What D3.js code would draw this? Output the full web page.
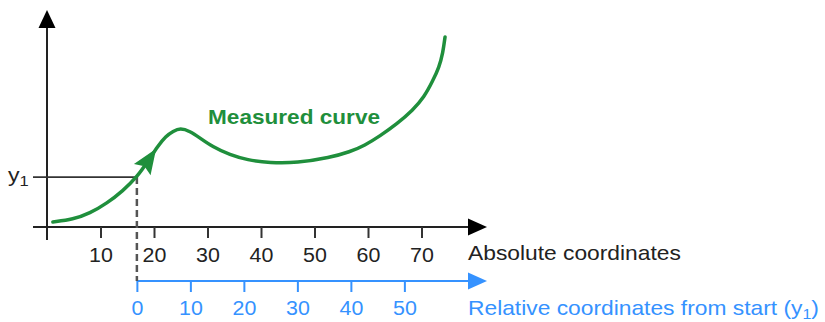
<!DOCTYPE html>
<html>
<head>
<meta charset="utf-8">
<script src="https://cdn.jsdelivr.net/npm/d3@7"></script>
<style>
  body { margin: 0; background: #fff; }
  svg { display: block; font-family: "Liberation Sans", Arial, sans-serif; }
</style>
</head>
<body>
<svg id="chart" width="825" height="322"></svg>
<script>
// measured curve, absolute x / arbitrary y units
const curveX = [1.1, 4.9, 8.0, 11.2, 14.2, 16.8, 18.9, 20.7, 22.2, 23.6, 24.9, 26.7, 28.6, 31.0, 34.2, 37.4, 41.7, 46.7, 52.9, 56.6, 59.4, 62.2, 65.4, 68.4, 70.5, 72.1, 73.3, 74.0, 74.4];
const curveY = [2.3, 3.5, 6.3, 10.9, 16.7, 23.0, 30.4, 37.3, 41.9, 44.2, 45.6, 44.2, 41.0, 36.9, 33.2, 30.9, 29.5, 29.5, 32.0, 34.6, 37.6, 41.9, 47.5, 53.9, 59.9, 67.3, 73.7, 80.2, 87.6];
const absTicks = [10, 20, 30, 40, 50, 60, 70];
const relTicks = [0, 10, 20, 30, 40, 50];
const startX = 16.8; // where relative coordinates begin
const startY = 23.0; // y1
const arrowAtX = 20.4;

const green = "#1f8f3c";
const blue = "#3592ff";
const ink = "#222";

const svg = d3.select("#chart");

const x = d3.scaleLinear().domain([0, 80]).range([47, 475]);
const y = d3.scaleLinear().domain([0, 100]).range([227, 10]);
const xRel = d3.scaleLinear().domain([0, 60]).range([x(startX), x(startX + 60)]);

function arrowHead(g, tipX, tipY, angle, len, half, color, notch) {
  const c = Math.cos(angle), s = Math.sin(angle);
  const bx = tipX - c * len, by = tipY - s * len;
  const n = notch || 0;
  g.append("path")
    .attr("d", "M" + tipX + "," + tipY +
      "L" + (bx - s * half) + "," + (by + c * half) +
      "L" + (bx + c * n) + "," + (by + s * n) +
      "L" + (bx + s * half) + "," + (by - c * half) + "Z")
    .attr("fill", color);
}

// y axis
svg.append("line")
  .attr("x1", x(0)).attr("x2", x(0))
  .attr("y1", 240).attr("y2", 26)
  .attr("stroke", ink).attr("stroke-width", 2);
arrowHead(svg, x(0), 10, -Math.PI / 2, 18, 8.5, "#000");

// absolute x axis
svg.append("line")
  .attr("x1", 33).attr("x2", 472)
  .attr("y1", y(0)).attr("y2", y(0))
  .attr("stroke", ink).attr("stroke-width", 2);
arrowHead(svg, 487, y(0), 0, 19, 8.5, "#000");

const absAxis = svg.append("g")
  .attr("transform", "translate(0," + y(0) + ")")
  .call(d3.axisBottom(x).tickValues(absTicks).tickSize(11).tickPadding(10).tickSizeOuter(0));
absAxis.select(".domain").remove();
absAxis.selectAll(".tick line").attr("stroke", "#333").attr("stroke-width", 2);
absAxis.selectAll(".tick text")
  .attr("fill", ink).attr("font-size", 20)
  .attr("font-family", "Liberation Sans, Arial, sans-serif")
  .attr("transform", "scale(1.07,1)");

// relative x axis
const relY = 281;
svg.append("line")
  .attr("x1", xRel(0)).attr("x2", 472)
  .attr("y1", relY).attr("y2", relY)
  .attr("stroke", blue).attr("stroke-width", 2);
arrowHead(svg, 487, relY, 0, 19, 8.5, blue);

const relAxis = svg.append("g")
  .attr("transform", "translate(0," + relY + ")")
  .call(d3.axisBottom(xRel).tickValues(relTicks).tickSize(11).tickPadding(9).tickSizeOuter(0));
relAxis.select(".domain").remove();
relAxis.selectAll(".tick line").attr("stroke", blue).attr("stroke-width", 2);
relAxis.selectAll(".tick text")
  .attr("fill", blue).attr("font-size", 20)
  .attr("font-family", "Liberation Sans, Arial, sans-serif")
  .attr("transform", "scale(1.07,1)");

// y1 guide and dashed drop line
svg.append("line")
  .attr("x1", 33).attr("x2", x(startX))
  .attr("y1", y(startY)).attr("y2", y(startY))
  .attr("stroke", "#333").attr("stroke-width", 1.6);
svg.append("line")
  .attr("x1", x(startX)).attr("x2", x(startX))
  .attr("y1", y(startY)).attr("y2", relY)
  .attr("stroke", "#555").attr("stroke-width", 2.5)
  .attr("stroke-dasharray", "7,4");

// measured curve
const pts = curveX.map((d, i) => [d, curveY[i]]);
const line = d3.line()
  .x(d => x(d[0]))
  .y(d => y(d[1]))
  .curve(d3.curveBasis);
const path = svg.append("path")
  .attr("d", line(pts))
  .attr("fill", "none")
  .attr("stroke", green)
  .attr("stroke-width", 3.5)
  .attr("stroke-linecap", "round");

// arrow head on the curve
const node = path.node();
const total = node.getTotalLength();
let lo = 0, hi = total;
for (let i = 0; i < 30; i++) {
  const mid = (lo + hi) / 2;
  if (node.getPointAtLength(mid).x < x(arrowAtX)) lo = mid; else hi = mid;
}
const tip = node.getPointAtLength(lo);
const back = node.getPointAtLength(Math.max(0, lo - 12));
arrowHead(svg, tip.x, tip.y, Math.atan2(tip.y - back.y, tip.x - back.x), 25, 10, green, 4);

// labels
svg.append("text")
  .attr("transform", "translate(208,124) scale(1.13,1)")
  .attr("fill", green).attr("font-size", 20).attr("font-weight", "bold")
  .text("Measured curve");

svg.append("text")
  .attr("transform", "translate(468,260) scale(1.14,1)")
  .attr("fill", ink).attr("font-size", 20)
  .text("Absolute coordinates");

const rel = svg.append("text")
  .attr("transform", "translate(468,315) scale(1.14,1)")
  .attr("fill", blue).attr("font-size", 20);
rel.append("tspan").text("Relative coordinates from start (y");
rel.append("tspan").attr("font-size", 14).attr("dy", 4).text("1");
rel.append("tspan").attr("dy", -4).text(")");

const yl = svg.append("text")
  .attr("transform", "translate(8,182) scale(1.1,1)")
  .attr("fill", ink).attr("font-size", 21);
yl.append("tspan").text("y");
yl.append("tspan").attr("font-size", 15).attr("dy", 4).text("1");
</script>
</body>
</html>
